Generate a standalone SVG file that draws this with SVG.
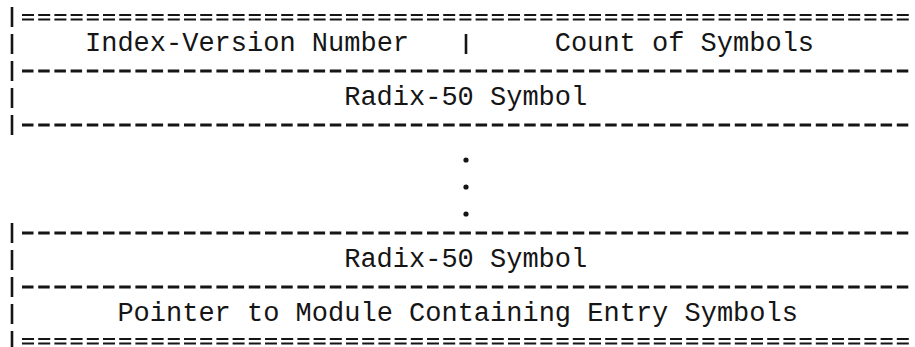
<svg xmlns="http://www.w3.org/2000/svg" width="915" height="347" viewBox="0 0 915 347">
<style>
.t{font-family:"Liberation Mono","DejaVu Sans Mono",monospace;font-size:27px;fill:#151515}
.d{stroke:#151515;stroke-width:3;stroke-dasharray:11.5 4.7;fill:none}
.e{stroke:#151515;stroke-width:2;stroke-dasharray:12 4.2;fill:none}
.b{stroke:#151515;stroke-width:2.6;fill:none}
.dot{fill:#151515}
</style>
<rect width="915" height="347" fill="#ffffff"/>
<g id="connectors">
  <line class="e" x1="22" y1="15" x2="911" y2="15"/>
  <line class="e" x1="22" y1="19.5" x2="911" y2="19.5"/>
  <line class="d" x1="22" y1="71" x2="911" y2="71"/>
  <line class="d" x1="22" y1="125" x2="911" y2="125"/>
  <line class="d" x1="22" y1="233" x2="911" y2="233"/>
  <line class="d" x1="22" y1="287" x2="911" y2="287"/>
  <line class="e" x1="22" y1="339" x2="911" y2="339"/>
  <line class="e" x1="22" y1="343.5" x2="911" y2="343.5"/>
  <path class="b" d="M12 7V27M12 34V54M12 61V81M12 88V108M12 115V135M12 223V243M12 250V270M12 277V297M12 304V324M12 331V347"/>
</g>
<g id="header">
  <text class="t" x="85" y="51">Index-Version Number</text>
  <path class="b" d="M466 34V54"/>
  <text class="t" x="554.8" y="51">Count of Symbols</text>
</g>
<g id="radix-first">
  <text class="t" x="344.2" y="105">Radix-50 Symbol</text>
</g>
<g id="ellipsis">
  <circle class="dot" cx="466" cy="160" r="2.6"/>
  <circle class="dot" cx="466" cy="187" r="2.6"/>
  <circle class="dot" cx="466" cy="214" r="2.6"/>
</g>
<g id="radix-last">
  <text class="t" x="344.2" y="267">Radix-50 Symbol</text>
</g>
<g id="pointer">
  <text class="t" x="117.4" y="321">Pointer to Module Containing Entry Symbols</text>
</g>
</svg>
